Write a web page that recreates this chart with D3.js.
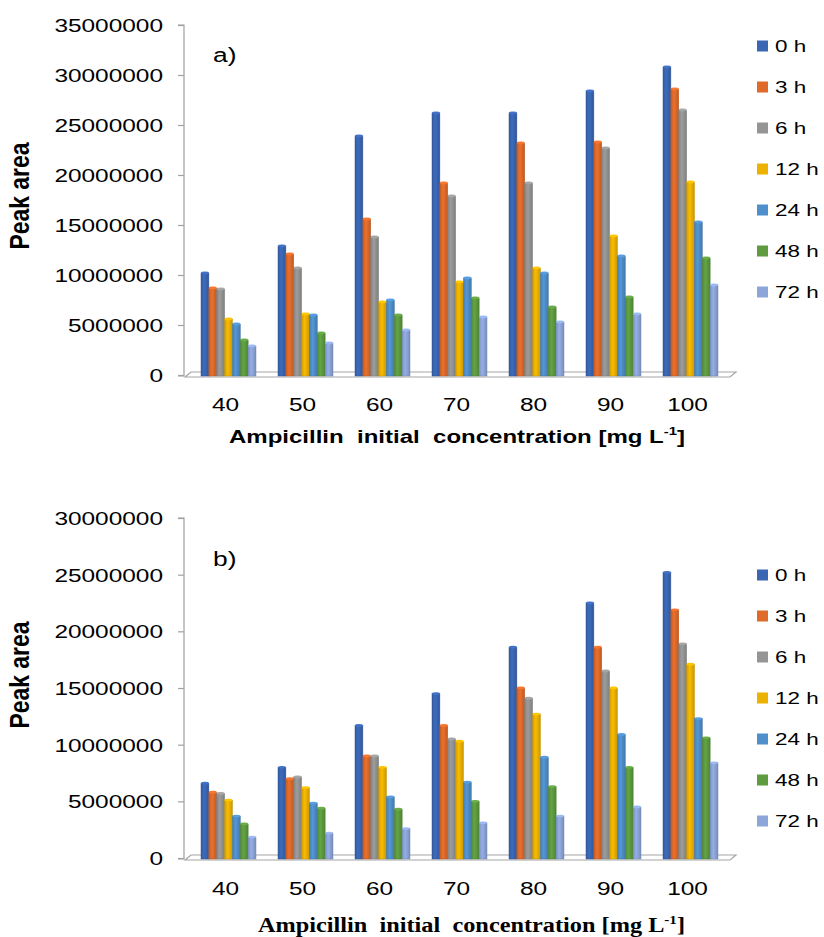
<!DOCTYPE html>
<html>
<head>
<meta charset="utf-8">
<script src="https://cdn.jsdelivr.net/npm/d3@7"></script>
<style>
  body { margin: 0; background: #fff; }
  svg { display: block; font-family: Arial, "Liberation Sans", sans-serif; }
</style>
</head>
<body>
<svg id="chart" width="824" height="937"></svg>
<script>
// categories and series
const concentrations = ['40', '50', '60', '70', '80', '90', '100'];
const hours = ['0 h', '3 h', '6 h', '12 h', '24 h', '48 h', '72 h'];
const colors = ['#3a66b4', '#e06a2a', '#959595', '#edb200', '#4f8fcb', '#5e9c3f', '#8da6da'];

// panel a) peak area per sampling time
const a0h  = [10200000, 12900000, 23900000, 26200000, 26200000, 28400000, 30800000];
const a3h  = [8700000, 12100000, 15600000, 19200000, 23200000, 23300000, 28600000];
const a6h  = [8600000, 10700000, 13800000, 17900000, 19200000, 22700000, 26500000];
const a12h = [5600000, 6100000, 7300000, 9300000, 10700000, 13900000, 19300000];
const a24h = [5100000, 6000000, 7500000, 9700000, 10200000, 11900000, 15300000];
const a48h = [3500000, 4200000, 6000000, 7700000, 6800000, 7800000, 11700000];
const a72h = [2900000, 3200000, 4500000, 5800000, 5300000, 6100000, 9000000];

// panel b)
const b0h  = [6600000, 8000000, 11700000, 14500000, 18600000, 22500000, 25200000];
const b3h  = [5800000, 7000000, 9000000, 11700000, 15000000, 18600000, 21900000];
const b6h  = [5700000, 7150000, 9000000, 10500000, 14100000, 16500000, 18900000];
const b12h = [5100000, 6200000, 8000000, 10300000, 12700000, 15000000, 17100000];
const b24h = [3700000, 4850000, 5400000, 6700000, 8900000, 10900000, 12300000];
const b48h = [3000000, 4400000, 4300000, 5000000, 6300000, 8000000, 10600000];
const b72h = [1850000, 2200000, 2600000, 3100000, 3700000, 4500000, 8400000];

const ticksA = [0, 5000000, 10000000, 15000000, 20000000, 25000000, 30000000, 35000000];
const ticksB = [0, 5000000, 10000000, 15000000, 20000000, 25000000, 30000000];

const SX = 1.32; // the picture is stretched sideways
const svg = d3.select('#chart');
svg.append('rect').attr('width', 824).attr('height', 937).attr('fill', '#fff');

// gradients for the 3D-looking bars
let defs = svg.append('defs');
colors.forEach(function(c, i) {
  let gr = defs.append('linearGradient').attr('id', 'grad' + i)
    .attr('x1', 0).attr('x2', 1).attr('y1', 0).attr('y2', 0);
  gr.append('stop').attr('offset', '0%').attr('stop-color', d3.color(c).darker(0.35));
  gr.append('stop').attr('offset', '40%').attr('stop-color', d3.color(c).brighter(0.15));
  gr.append('stop').attr('offset', '100%').attr('stop-color', d3.color(c).darker(0.45));
});

function sText(g, x, y, str, size) {
  return g.append('text')
    .attr('transform', `translate(${x},${y}) scale(${SX},1)`)
    .attr('font-size', size)
    .attr('fill', '#000')
    .text(str);
}

function drawPanel(opt) {
  let g = svg.append('g');
  let x = d3.scaleBand().domain(concentrations)
    .range([190, 729]).paddingInner(0.286).paddingOuter(0.143);
  let xs = d3.scaleBand().domain(hours).range([0, x.bandwidth()]);
  let y = d3.scaleLinear().domain([0, opt.max]).range([opt.y0, opt.yTop]);

  // floor
  let f = opt.y0;
  g.append('path')
    .attr('d', `M185,${f + 2}L191,${f - 3}L736,${f - 3}L730,${f + 2}Z`)
    .attr('fill', '#fff')
    .attr('stroke', '#a6a6a6')
    .attr('stroke-width', 1.2);

  // y axis
  let ax = g.append('g')
    .attr('transform', 'translate(184,0)')
    .call(d3.axisLeft(y).tickValues(opt.ticks).tickSize(6).tickFormat(d3.format('d')));
  ax.selectAll('path, line').attr('stroke', '#a0a0a0').attr('stroke-width', 1.2);
  ax.select('.domain').attr('d', `M-6,${opt.y0 + 1}H0V${opt.yTop}H-6`);
  ax.selectAll('text')
    .attr('x', null).attr('dy', null)
    .attr('transform', `translate(-21,6.5) scale(${SX},1)`)
    .attr('font-size', 18.5)
    .attr('font-family', 'Arial, "Liberation Sans", sans-serif')
    .attr('fill', '#000');

  // bars
  let groups = g.append('g').selectAll('g')
    .data(concentrations)
    .enter()
    .append('g')
    .attr('transform', d => `translate(${x(d)},0)`);
  groups.selectAll('rect')
    .data((d, i) => opt.series.map((s, j) => ({ k: hours[j], v: s[i], j: j })))
    .enter()
    .append('rect')
      .attr('x', d => xs(d.k))
      .attr('y', d => y(d.v))
      .attr('width', xs.bandwidth())
      .attr('height', d => opt.y0 + 1 - y(d.v))
      .attr('fill', d => `url(#grad${d.j})`)
      .attr('stroke', d => d3.color(colors[d.j]).darker(0.6))
      .attr('stroke-width', 0.5);
  groups.selectAll('ellipse')
    .data((d, i) => opt.series.map((s, j) => ({ k: hours[j], v: s[i], j: j })))
    .enter()
    .append('ellipse')
      .attr('cx', d => xs(d.k) + xs.bandwidth() / 2)
      .attr('cy', d => y(d.v))
      .attr('rx', xs.bandwidth() / 2)
      .attr('ry', 1.4)
      .attr('fill', d => d3.color(colors[d.j]).brighter(0.3));

  // category labels
  concentrations.forEach(function(c) {
    sText(g, x(c) + x.bandwidth() / 2 - 3, opt.catY, c, 18.5).attr('text-anchor', 'middle');
  });

  // panel letter
  sText(g, 213, opt.letterY, opt.letter, 20);

  // y title
  g.append('text')
    .attr('transform', `translate(29,${opt.titleY}) scale(${SX},1) rotate(-90)`)
    .attr('text-anchor', 'middle')
    .attr('font-size', 21)
    .attr('font-weight', 'bold')
    .attr('textLength', 107)
    .attr('lengthAdjust', 'spacingAndGlyphs')
    .text('Peak area');

  // legend
  let lg = g.append('g');
  hours.forEach(function(h, i) {
    let ly = opt.legendY + i * 41;
    lg.append('rect').attr('x', 757).attr('y', ly - 5.5).attr('width', 11).attr('height', 11)
      .attr('fill', colors[i]);
    sText(lg, 775, ly + 6, h, 17);
  });

  // x title
  let t = g.append('text')
    .attr('x', opt.xt0)
    .attr('y', opt.xtY)
    .attr('font-size', opt.xtSize)
    .attr('font-weight', 'bold')
    .attr('font-family', opt.xtFont)
    .attr('textLength', opt.xtLen)
    .attr('lengthAdjust', 'spacingAndGlyphs');
  t.append('tspan').text('Ampicillin\u00a0\u00a0initial\u00a0\u00a0concentration [mg L');
  t.append('tspan').attr('font-size', opt.xtSize * 0.62).attr('dy', -opt.xtSize * 0.42).text('-1');
  t.append('tspan').attr('dy', opt.xtSize * 0.42).text(']');
}

drawPanel({
  series: [a0h, a3h, a6h, a12h, a24h, a48h, a72h],
  max: 35000000, ticks: ticksA, y0: 375, yTop: 25,
  catY: 411, letter: 'a)', letterY: 62, titleY: 196, legendY: 46,
  xt0: 229, xtY: 443, xtSize: 19, xtLen: 456,
  xtFont: 'Arial, "Liberation Sans", sans-serif'
});

drawPanel({
  series: [b0h, b3h, b6h, b12h, b24h, b48h, b72h],
  max: 30000000, ticks: ticksB, y0: 858, yTop: 518,
  catY: 895, letter: 'b)', letterY: 566, titleY: 675, legendY: 575,
  xt0: 258, xtY: 932, xtSize: 20, xtLen: 427,
  xtFont: '"Liberation Serif", "Times New Roman", serif'
});
</script>
</body>
</html>
